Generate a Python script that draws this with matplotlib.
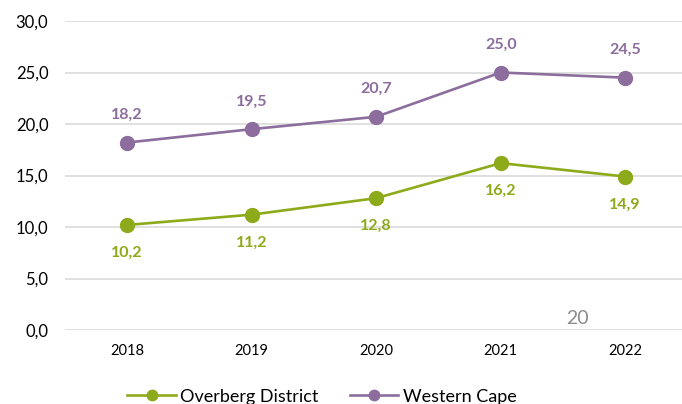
import matplotlib
matplotlib.use("Agg")
import matplotlib.pyplot as plt

# chart data
years = ["2018", "2019", "2020", "2021", "2022"]
overberg = [10.2, 11.2, 12.8, 16.2, 14.9]
western_cape = [18.2, 19.5, 20.7, 25.0, 24.5]

green = "#8DAA1A"
purple = "#8C6D9D"

plt.rcParams['font.family'] = ['Lato', 'DejaVu Sans']

fig = plt.figure(figsize=(6.82, 4.04), dpi=100)
ax = fig.add_axes([65 / 682, 74 / 404, 617 / 682, 309 / 404])

x = list(range(len(years)))
ax.plot(x, overberg, color=green, lw=1.9, marker="o", ms=10, label="Overberg District")
ax.plot(x, western_cape, color=purple, lw=1.9, marker="o", ms=10, label="Western Cape")

def fmt(v):
    return f"{v:.1f}".replace(".", ",")

for xi, v in zip(x, overberg):
    ax.annotate(fmt(v), (xi, v), xytext=(0, -20), textcoords="offset points",
                ha="center", va="center", color=green, fontsize=11.5, fontweight="bold")
for xi, v in zip(x, western_cape):
    ax.annotate(fmt(v), (xi, v), xytext=(0, 20), textcoords="offset points",
                ha="center", va="center", color=purple, fontsize=11.5, fontweight="bold")

ax.set_xlim(-0.5, 4.456)
ax.set_ylim(0, 30)
ax.set_yticks([0, 5, 10, 15, 20, 25, 30])
ax.set_yticklabels([fmt(v) for v in [0, 5, 10, 15, 20, 25, 30]], fontsize=12)
ax.set_xticks(x)
ax.set_xticklabels(years, fontsize=10.5)
ax.tick_params(axis="y", length=0, pad=12)
ax.tick_params(axis="x", length=0, pad=10)
ax.grid(axis="y", color="#DDDDDD", lw=1.3)
ax.set_axisbelow(True)
for s in ax.spines.values():
    s.set_visible(False)

ax.text(3.62, 0.3, "20", color="#8C8C8C", fontsize=14, ha="center", va="bottom")

fig.legend(loc="center", bbox_to_anchor=(0.472, 0.018), ncol=2, frameon=False,
           fontsize=13, handlelength=2.7, handletextpad=0.25, columnspacing=1.7,
           markerscale=0.75)

fig.savefig("out.png", dpi=100)
